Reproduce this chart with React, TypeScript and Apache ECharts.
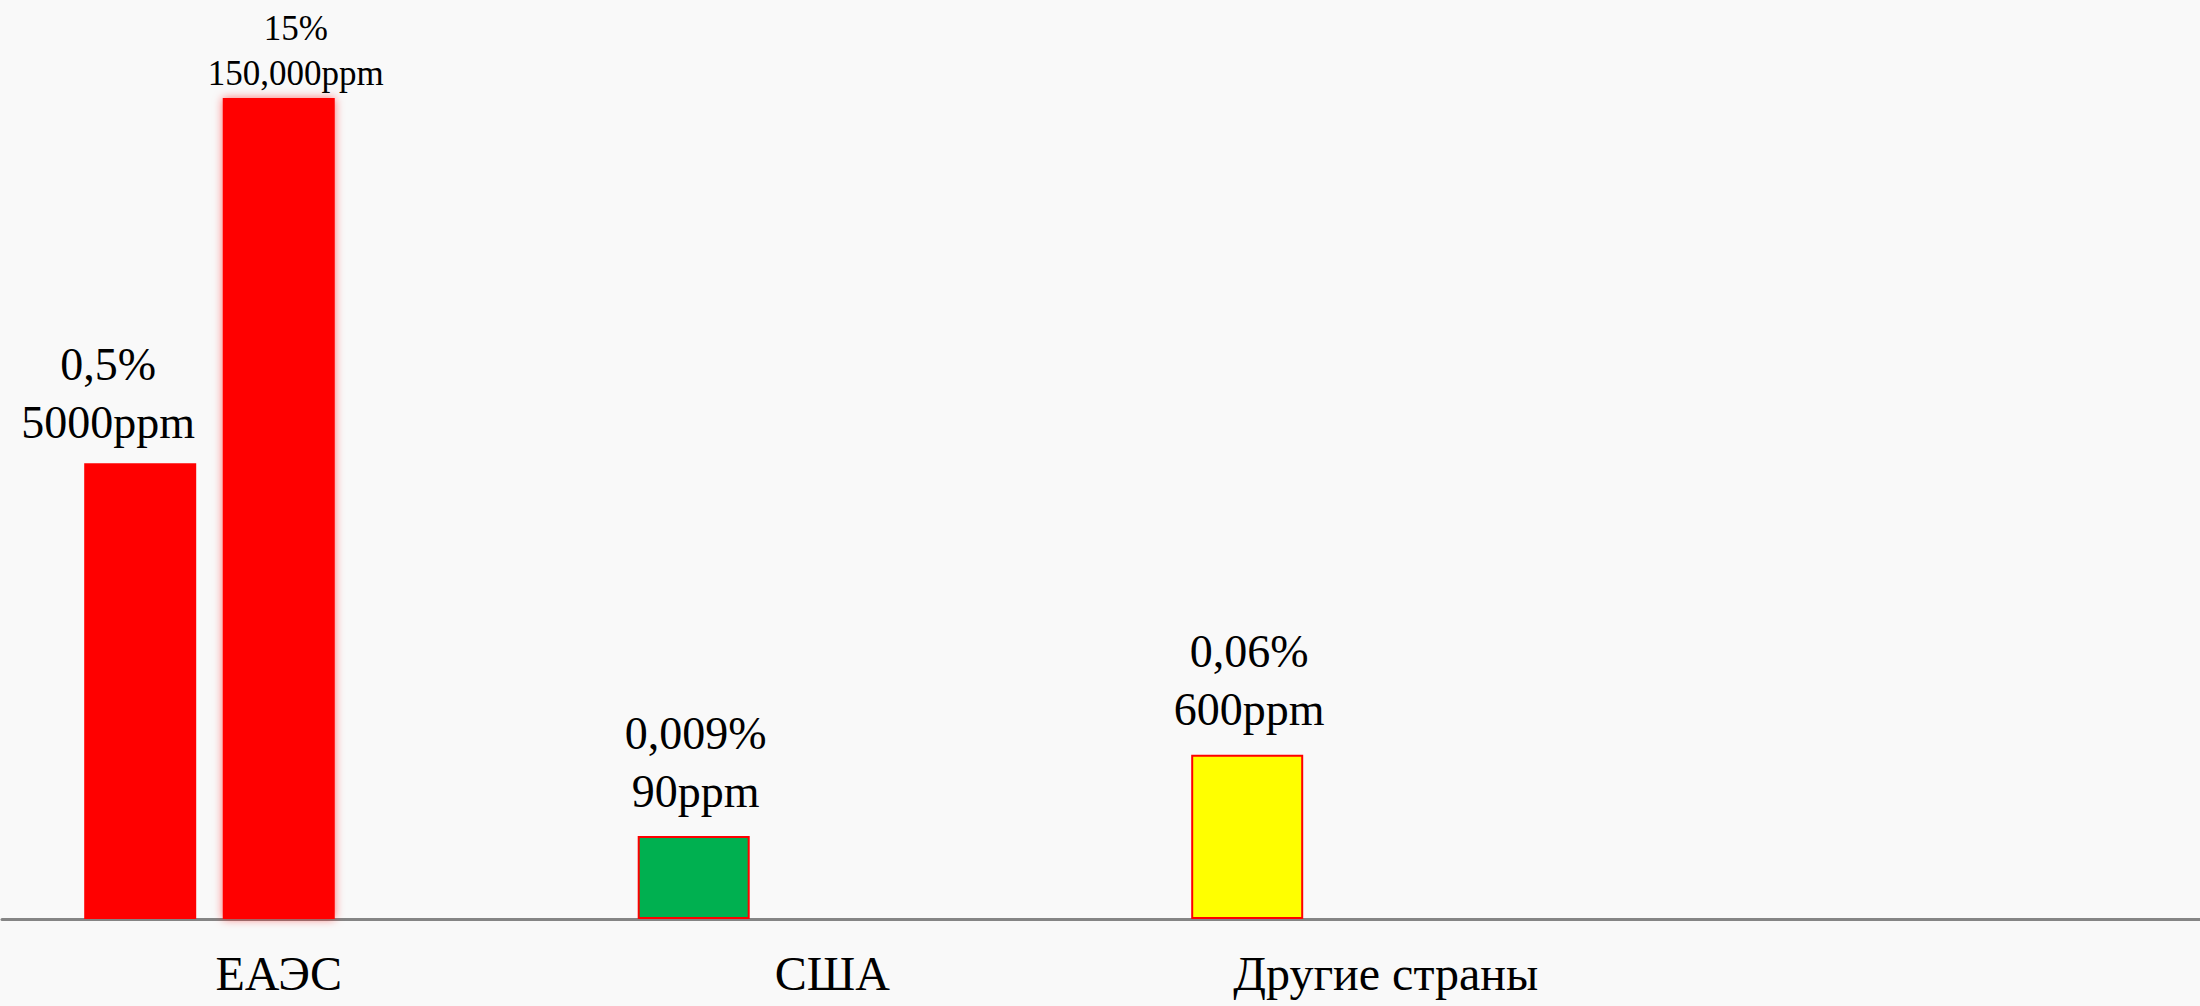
import React, { useEffect, useRef } from "react";
import * as echarts from "echarts";

// Categories on the x axis (the fourth slot is empty in the reference)
const categories = ["ЕАЭС", "США", "Другие страны", ""];

// Bar heights as drawn in the picture (relative units, tallest bar = 100)
const seriesAHeights = [55.5, 10.1, 20.0, null];
const seriesBHeights = [100, null, null, null];
const seriesCHeights = [null, null, null, null];

// Label texts
const seriesAPercent = ["0,5%", "0,009%", "0,06%", ""];
const seriesAPpm = ["5000ppm", "90ppm", "600ppm", ""];
const seriesBPercent = ["15%", "", "", ""];
const seriesBPpm = ["150,000ppm", "", "", ""];

// Colours for series A bars
const seriesAColors = ["#FF0000", "#00B050", "#FFFF00", "#FF0000"];

const FONT = "'Liberation Serif', 'DejaVu Serif', serif";

export default function App() {
  const ref = useRef<HTMLDivElement>(null);

  useEffect(() => {
    if (!ref.current) return;
    document.body.style.margin = "0";
    const chart = echarts.init(ref.current, undefined, { renderer: "svg" });

    const aDistances = [12, 16, 16, 5];
    const aOffsets = [[-32, 0], [2, 0], [2, 0], [0, 0]];

    const seriesAData = seriesAHeights.map((v, i) => ({
      value: v,
      itemStyle: {
        color: seriesAColors[i],
        borderColor: "#FF0000",
        borderWidth: i === 0 ? 0 : 2,
      },
      label: {
        distance: aDistances[i],
        offset: aOffsets[i],
      },
    }));

    const seriesBData = seriesBHeights.map((v) => ({
      value: v,
    }));

    chart.setOption({
      animation: false,
      backgroundColor: "#f9f9f9",
      grid: {
        left: 2,
        width: 2214,
        top: 98,
        bottom: 87,
        containLabel: false,
        outerBoundsMode: "none",
      },
      xAxis: {
        type: "category",
        data: categories,
        axisLine: { show: true, lineStyle: { color: "#858585", width: 3 } },
        axisTick: { show: false },
        axisLabel: {
          fontFamily: FONT,
          fontSize: 48,
          color: "#000",
          margin: 30,
        },
        splitLine: { show: false },
      },
      yAxis: {
        type: "value",
        min: 0,
        max: 100,
        show: false,
        splitLine: { show: false },
      },
      series: [
        {
          type: "bar",
          name: "A",
          data: seriesAData,
          barWidth: 112,
          barGap: "23.7%",
          label: {
            show: true,
            position: "top",
            fontFamily: FONT,
            fontSize: 46,
            lineHeight: 58,
            color: "#000",
            align: "center",
            formatter: (p: any) =>
              seriesAPercent[p.dataIndex] + "\n" + seriesAPpm[p.dataIndex],
          },
        },
        {
          type: "bar",
          name: "B",
          data: seriesBData,
          barWidth: 112,
          barGap: "23.7%",
          itemStyle: {
            color: "#FF0000",
            shadowBlur: 10,
            shadowColor: "rgba(255,0,0,0.55)",
          },
          label: {
            show: true,
            position: "top",
            distance: 2,
            offset: [17, 0],
            fontFamily: FONT,
            fontSize: 35,
            lineHeight: 45,
            color: "#000",
            align: "center",
            formatter: (p: any) =>
              seriesBPercent[p.dataIndex] + "\n" + seriesBPpm[p.dataIndex],
          },
        },
        {
          type: "bar",
          name: "C",
          data: seriesCHeights,
          barWidth: 112,
          barGap: "23.7%",
        },
      ],
    });

    return () => chart.dispose();
  }, []);

  return (
    <div
      ref={ref}
      style={{ position: "absolute", left: 0, top: 0, width: 2200, height: 1006 }}
    />
  );
}
